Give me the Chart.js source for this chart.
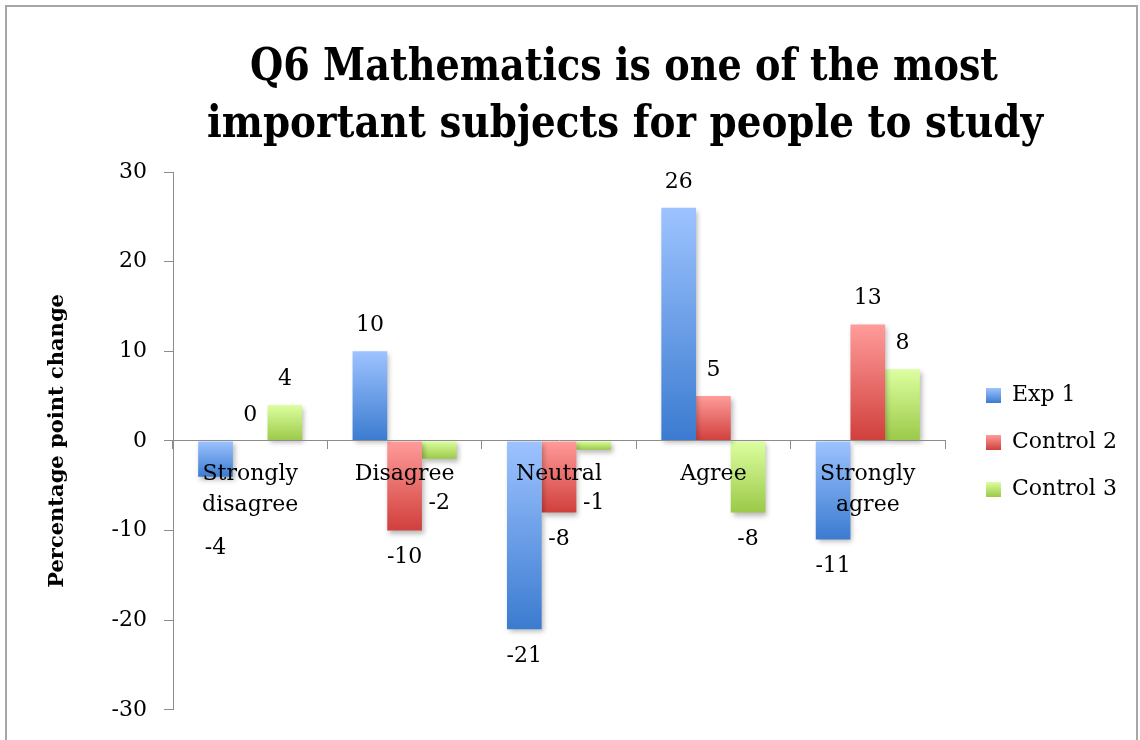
<!DOCTYPE html>
<html>
<head>
<meta charset="utf-8">
<script src="https://cdn.jsdelivr.net/npm/chart.js@4.4.1/dist/chart.umd.min.js"></script>
<style>
html,body{margin:0;padding:0;background:#fff;overflow:hidden}
#wrap{position:relative;width:1140px;height:740px}
#frame{position:absolute;left:5px;top:5px;width:1133px;height:820px;border:2px solid #a6a6a6;box-sizing:border-box;pointer-events:none}
canvas{position:absolute;left:0;top:0}
</style>
</head>
<body>
<div id="wrap"><canvas id="c" width="1140" height="740"></canvas><div id="frame"></div></div>
<script>
// ---- data ----
const titleLines = ['Q6 Mathematics is one of the most', 'important subjects for people to study'];
const yAxisTitle = 'Percentage point change';
const categories = [['Strongly', 'disagree'], 'Disagree', 'Neutral', 'Agree', ['Strongly', 'agree']];
const seriesNames = ['Exp 1', 'Control 2', 'Control 3'];
const exp1 = [-4, 10, -21, 26, -11];
const control2 = [0, -10, -8, 5, 13];
const control3 = [4, -2, -1, -8, 8];
const yMin = -30, yMax = 30, yStep = 10;

// ---- styles ----
const SERIF = '"DejaVu Serif", serif';
const FONT_SIZE = 22;
const gradTops = ['#9dc3ff', '#ff9c9a', '#dcffa0'];
const gradBottoms = ['#3b7bd0', '#d03f3c', '#9bc948'];
const mids = ['#6b9fe8', '#e86e6b', '#bce475'];

function barFill(i) {
  return function (c) {
    if (c.type !== 'data' || !c.chart.scales || !c.chart.scales.y) return mids[i];
    const ys = c.chart.scales.y;
    const p0 = ys.getPixelForValue(0), p1 = ys.getPixelForValue(c.raw);
    const t = Math.min(p0, p1), b = Math.max(p0, p1);
    if (!isFinite(t) || b - t < 1) return gradTops[i];
    const g = c.chart.ctx.createLinearGradient(0, t, 0, b);
    g.addColorStop(0, gradTops[i]);
    g.addColorStop(1, gradBottoms[i]);
    return g;
  };
}

// legend swatches (gradient squares)
const swatches = [0, 1, 2].map(i => {
  const cv = document.createElement('canvas');
  cv.width = 15; cv.height = 15;
  const x = cv.getContext('2d');
  const g = x.createLinearGradient(0, 0, 0, 15);
  g.addColorStop(0, gradTops[i]); g.addColorStop(1, gradBottoms[i]);
  x.fillStyle = g; x.fillRect(0, 0, 15, 15);
  return cv;
});

// layout targets
const PLOT_RIGHT = 945, LEGEND_BOX_X = 986, LEG_PAD = 25, BOX = 15;
const mctx = document.createElement('canvas').getContext('2d');
mctx.font = 'normal ' + FONT_SIZE + 'px ' + SERIF;
const maxTextW = Math.max(...seriesNames.map(s => mctx.measureText(s).width));
const legendWidth = LEG_PAD + (BOX + FONT_SIZE / 2 + maxTextW) + 10;
const legendLeft = LEGEND_BOX_X - LEG_PAD;
const rightGap = legendLeft - PLOT_RIGHT;
const padRight = 1140 - (legendLeft + legendWidth);

const shadowPlugin = {
  id: 'barShadow',
  beforeDatasetsDraw(chart) {
    const ctx = chart.ctx;
    ctx.save();
    ctx.shadowColor = 'rgba(0,0,0,0.28)';
    ctx.shadowBlur = 5;
    ctx.shadowOffsetX = 2;
    ctx.shadowOffsetY = 3;
  },
  afterDatasetsDraw(chart) { chart.ctx.restore(); }
};

const titlePlugin = {
  id: 'bigTitle',
  afterDraw(chart) {
    const ctx = chart.ctx;
    ctx.save();
    ctx.fillStyle = '#000';
    ctx.font = 'bold 45px ' + SERIF;
    ctx.textAlign = 'center';
    ctx.textBaseline = 'alphabetic';
    ctx.fillText(titleLines[0], 624, 80, 748);
    ctx.fillText(titleLines[1], 625, 137, 836);
    ctx.restore();
  }
};

const valueLabelPlugin = {
  id: 'valueLabels',
  afterDraw(chart) {
    const ctx = chart.ctx;
    const xs = chart.scales.x, ys = chart.scales.y;
    const zero = ys.getPixelForValue(0);
    ctx.save();
    ctx.font = 'normal ' + FONT_SIZE + 'px ' + SERIF;
    ctx.fillStyle = '#000';
    ctx.textAlign = 'center';
    ctx.textBaseline = 'middle';
    const lineH = 31, top = zero + 8 + 10;
    const boxes = chart.data.labels.map((lab, i) => {
      const lines = Array.isArray(lab) ? lab : [lab];
      const w = Math.max(...lines.map(l => ctx.measureText(l).width));
      const cx = xs.getPixelForValue(i);
      return { l: cx - w / 2, r: cx + w / 2, n: lines.length, b: top + lines.length * lineH };
    });
    chart.data.datasets.forEach((ds, di) => {
      const meta = chart.getDatasetMeta(di);
      meta.data.forEach((el, i) => {
        const v = ds.data[i];
        const txt = String(v);
        const w = ctx.measureText(txt).width;
        let y;
        if (v >= 0) {
          y = el.y - 26;
        } else {
          y = el.y + 27;
          const bx = boxes[i];
          if (el.x + w / 2 > bx.l && el.x - w / 2 < bx.r && y - 11 < bx.b) {
            y = Math.max(y, bx.b + 13 + 14 * (bx.n - 1));
          }
        }
        ctx.fillText(txt, el.x, y);
      });
    });
    ctx.restore();
  }
};

const seriesData = [exp1, control2, control3];

new Chart(document.getElementById('c'), {
  type: 'bar',
  data: {
    labels: categories,
    datasets: seriesNames.map((name, i) => ({
      label: name,
      data: seriesData[i],
      backgroundColor: barFill(i),
      borderWidth: 0,
      categoryPercentage: 0.674,
      barPercentage: 1.0
    }))
  },
  options: {
    responsive: false,
    animation: false,
    layout: { padding: { top: 172, bottom: 27, left: 0, right: padRight } },
    plugins: {
      title: { display: false },
      tooltip: { enabled: false },
      legend: {
        display: true,
        position: 'right',
        align: 'center',
        labels: {
          color: '#000',
          font: { family: SERIF, size: FONT_SIZE },
          boxWidth: BOX,
          boxHeight: BOX,
          padding: LEG_PAD,
          usePointStyle: true,
          generateLabels(chart) {
            const items = Chart.defaults.plugins.legend.labels.generateLabels(chart);
            items.forEach((it, i) => { it.pointStyle = swatches[i]; });
            return items;
          }
        }
      }
    },
    scales: {
      x: {
        position: { y: 0 },
        offset: true,
        ticks: {
          z: 1,
          color: '#000',
          font: { family: SERIF, size: FONT_SIZE, lineHeight: 1.41 },
          padding: 10,
          maxRotation: 0,
          minRotation: 0,
          autoSkip: false
        },
        grid: { display: true, drawOnChartArea: false, offset: true, tickLength: 8, color: '#8c8c8c', z: 1 },
        border: { display: true, color: '#8c8c8c', width: 1, z: 1 }
      },
      y: {
        position: 'left',
        min: yMin,
        max: yMax,
        ticks: { stepSize: yStep, color: '#000', font: { family: SERIF, size: FONT_SIZE }, padding: 17 },
        grid: { display: true, drawOnChartArea: false, tickLength: 9, color: '#8c8c8c' },
        border: { display: true, color: '#8c8c8c', width: 1 },
        title: {
          display: true,
          text: yAxisTitle,
          color: '#000',
          font: { family: SERIF, size: 21, weight: 'bold' },
          padding: { top: 45, bottom: 0 }
        },
        afterFit(s) { s.width = 173; }
      },
      spacer: {
        type: 'linear',
        position: 'right',
        display: true,
        grid: { display: false },
        border: { display: false },
        ticks: { display: false },
        afterFit(s) { s.width = rightGap; }
      }
    }
  },
  plugins: [shadowPlugin, titlePlugin, valueLabelPlugin]
});
</script>
</body>
</html>
